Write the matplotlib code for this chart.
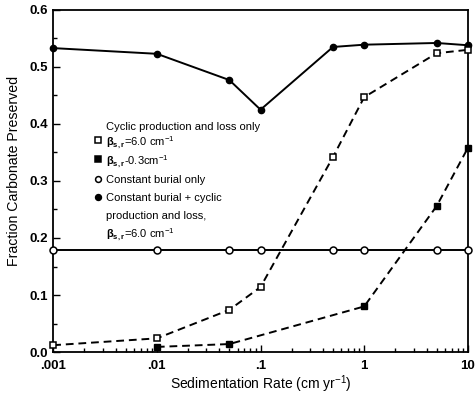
import numpy as np
import matplotlib
matplotlib.use("Agg")
import matplotlib.pyplot as plt
from matplotlib.ticker import FixedLocator, MultipleLocator, LogLocator, NullFormatter

plt.rcParams['font.family'] = ['Liberation Sans', 'DejaVu Sans']
plt.rcParams['mathtext.fontset'] = 'custom'
plt.rcParams['mathtext.rm'] = 'Liberation Sans'
plt.rcParams['mathtext.it'] = 'Liberation Sans:italic'
plt.rcParams['mathtext.bf'] = 'Liberation Sans:bold'

# sedimentation rates (cm/yr)
rate_all = [0.001, 0.01, 0.05, 0.1, 0.5, 1, 5, 10]
rate_low_beta = [0.01, 0.05, 1, 5, 10]

# fraction preserved
cyclic_beta6 = [0.012, 0.024, 0.074, 0.114, 0.342, 0.447, 0.524, 0.530]
cyclic_beta03 = [0.009, 0.014, 0.080, 0.256, 0.358]
burial_only = [0.179, 0.179, 0.179, 0.179, 0.179, 0.179, 0.179, 0.179]
burial_cyclic = [0.533, 0.523, 0.477, 0.425, 0.535, 0.539, 0.542, 0.538]

xticks = [0.001, 0.01, 0.1, 1, 10]
xticklabels = ['.001', '.01', '.1', '1', '10']
yticks = [0.0, 0.1, 0.2, 0.3, 0.4, 0.5, 0.6]
yticklabels = ['0.0', '0.1', '0.2', '0.3', '0.4', '0.5', '0.6']

fig = plt.figure(figsize=(4.75, 3.96), dpi=100)
ax = fig.add_axes([0.112, 0.111, 0.873, 0.864])

lw = 1.4
ax.plot(rate_all, burial_cyclic, '-', color='black', lw=lw, marker='o', ms=4.5,
        mfc='black', mec='black', clip_on=False, zorder=3)
ax.plot(rate_all, burial_only, '-', color='black', lw=lw, marker='o', ms=5,
        mfc='white', mec='black', mew=1.1, clip_on=False, zorder=3)
ax.plot(rate_all, cyclic_beta6, '--', color='black', lw=lw, dashes=(4, 2.5), marker='s', ms=4.5,
        mfc='white', mec='black', mew=1.1, clip_on=False, zorder=3)
ax.plot(rate_low_beta, cyclic_beta03, '--', color='black', lw=lw, dashes=(4, 2.5), marker='s', ms=4.5,
        mfc='black', mec='black', clip_on=False, zorder=3)

ax.set_xscale('log')
ax.set_xlim(0.001, 10)
ax.set_ylim(0, 0.6)
ax.xaxis.set_major_locator(FixedLocator(xticks))
ax.set_xticklabels(xticklabels)
ax.xaxis.set_minor_locator(LogLocator(base=10, subs=np.arange(2, 10)))
ax.xaxis.set_minor_formatter(NullFormatter())
ax.set_yticks(yticks)
ax.set_yticklabels(yticklabels)
ax.yaxis.set_minor_locator(MultipleLocator(0.05))

ax.tick_params(which='both', direction='in', top=False, right=False, labelsize=9.5, width=1)
ax.tick_params(which='major', length=5)
ax.tick_params(which='minor', length=3)
ax.tick_params(axis='x', pad=6)
ax.tick_params(axis='y', pad=4)
for lab in ax.get_xticklabels() + ax.get_yticklabels():
    lab.set_fontweight('bold')
for sp in ax.spines.values():
    sp.set_linewidth(1.3)

ax.set_xlabel('Sedimentation Rate (cm yr$^{-1}$)', fontsize=10)
ax.xaxis.set_label_coords(0.5, -0.062)
ax.set_ylabel('Fraction Carbonate Preserved', fontsize=10.2)
ax.yaxis.set_label_coords(-0.078, 0.53)

# hand-placed key, in axes fractions
key_x_marker = 0.108
key_x_text = 0.127
line_step = 0.051
ax.text(key_x_text, 0.658, 'Cyclic production and loss only', transform=ax.transAxes,
        fontsize=8, va='center', ha='left')
key_markers = [('s', 'white'), ('s', 'black'), ('o', 'white'), ('o', 'black')]
key_labels = [
    r'$\mathbf{\beta_{s,r}}$=6.0 cm$^{-1}$',
    r'$\mathbf{\beta_{s,r}}$-0.3cm$^{-1}$',
    'Constant burial only',
    'Constant burial + cyclic\nproduction and loss,\n' + r'$\mathbf{\beta_{s,r}}$=6.0 cm$^{-1}$',
]
key_y = [0.620, 0.564, 0.506, 0.453]
for (mk, fc), lab, yy in zip(key_markers, key_labels, key_y):
    ax.plot([key_x_marker], [yy], ls='none', marker=mk, ms=4.2, mfc=fc, mec='black',
            mew=1.1, transform=ax.transAxes)
    for i, line in enumerate(lab.split('\n')):
        ax.text(key_x_text, yy - i * line_step, line, transform=ax.transAxes,
                fontsize=8, ha='left', va='center_baseline')

fig.savefig('out.png', dpi=100)
